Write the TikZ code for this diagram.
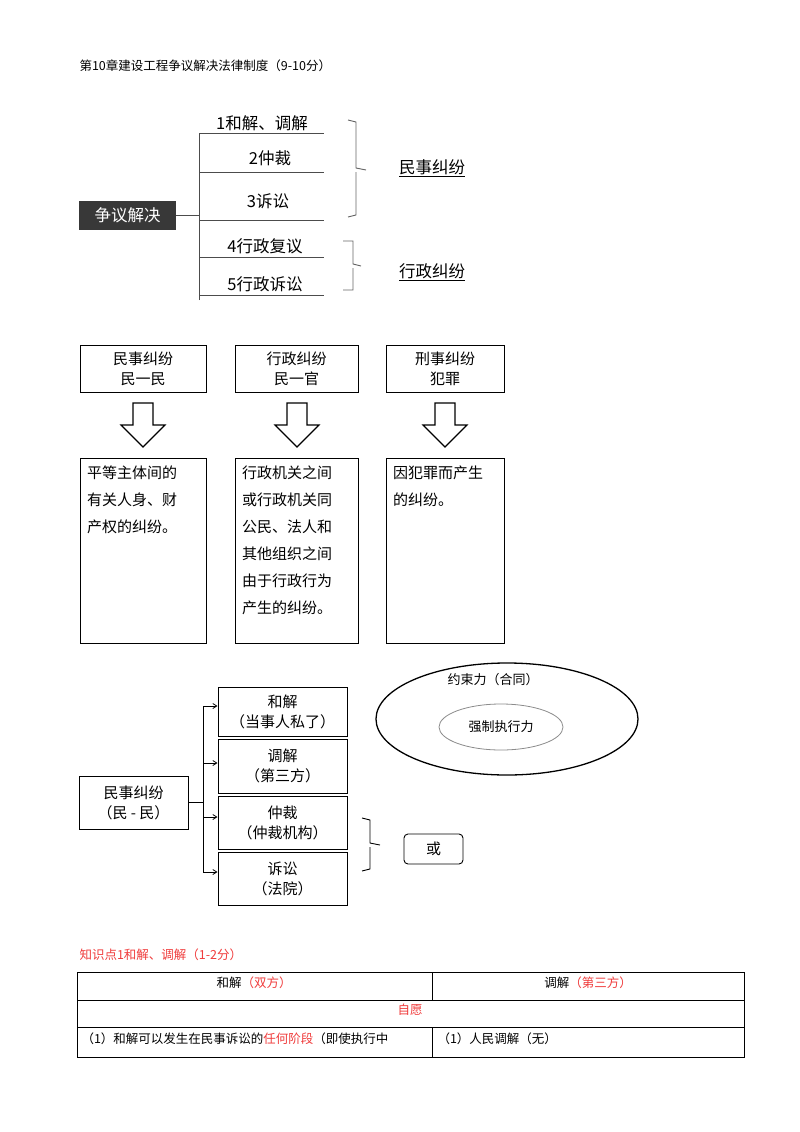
\documentclass[tikz,border=0pt]{standalone}
\usepackage{fontspec}
\setmainfont{Noto Sans CJK SC}
\usetikzlibrary{shapes.geometric,arrows.meta}
\definecolor{redt}{HTML}{F03C3C}
\begin{document}
\begin{tikzpicture}[x=1pt,y=-1pt,
  lbl/.style={font=\fontsize{16.5}{18}\selectfont},
  tbox/.style={draw,line width=1pt,align=center,font=\fontsize{15}{20}\selectfont,inner sep=0pt},
  bodybox/.style={draw,line width=1pt,anchor=north west,inner sep=0pt},
  bodytext/.style={anchor=north west,align=left,font=\fontsize{15}{27}\selectfont,inner sep=0pt},
  ln/.style={draw=black!70,line width=0.9pt},
  hollow/.style={draw,line width=1.1pt,fill=white},
  small/.style={font=\fontsize{12.5}{15}\selectfont},
  arr/.style={-{Straight Barb[length=4pt,width=5pt]},line width=0.8pt}]
\useasboundingbox (0,0) rectangle (800,1132);
\fill[white] (0,0) rectangle (800,1132);
\node[small,anchor=west] (title) at (76,66) {第10章建设工程争议解决法律制度（9-10分）};
% section 1
\node[fill=black!78,text=white,minimum width=97pt,minimum height=29pt,inner sep=0pt,font=\fontsize{16.5}{18}\selectfont] (root) at (127.5,215.5) {争议解决};
\draw[ln] (root.east) -- (199,215.5);
\draw[ln] (199,300) -- (199,133) -- (205,133);
\foreach \y in {133,172,220,257,295}{\draw[ln] (199,\y) -- (324,\y);}
\node[lbl] (n1) at (262,123) {1和解、调解};
\node[lbl] (n2) at (270,158) {2仲裁};
\node[lbl] (n3) at (268,201) {3诉讼};
\node[lbl] (n4) at (265,246) {4行政复议};
\node[lbl] (n5) at (265,284) {5行政诉讼};
\draw[ln,black!60] (348,120) -- (356,122) -- (356,168) -- (366,170) (356,172) -- (356,215) -- (348,217);
\draw[ln,black!60] (343,241) -- (353,241) -- (353,264) -- (361,266) (353,268) -- (353,290) -- (343,290);
\node[lbl] (c1) at (432,168) {\underline{民事纠纷}};
\node[lbl] (c2) at (432,272) {\underline{行政纠纷}};
% section 2
\node[tbox,minimum width=126pt,minimum height=47pt] (b1) at (143,368.5) {民事纠纷\\民一民};
\node[tbox,minimum width=123pt,minimum height=47pt] (b2) at (296.5,368.5) {行政纠纷\\民一官};
\node[tbox,minimum width=118pt,minimum height=47pt] (b3) at (445,368.5) {刑事纠纷\\犯罪};
\foreach \cx in {143,297,445}{
  \draw[hollow] (\cx-10,403) -- (\cx+10,403) -- (\cx+10,425) -- (\cx+22,425) -- (\cx,447) -- (\cx-22,425) -- (\cx-10,425) -- cycle;
}
\node[bodybox,minimum width=126pt,minimum height=185pt] (d1) at (80,458) {};
\node[bodybox,minimum width=123pt,minimum height=185pt] (d2) at (235,458) {};
\node[bodybox,minimum width=118pt,minimum height=185pt] (d3) at (386,458) {};
\node[bodytext] (t1x) at (87,466) {平等主体间的\\有关人身、财\\产权的纠纷。};
\node[bodytext] (t2x) at (242,466) {行政机关之间\\或行政机关同\\公民、法人和\\其他组织之间\\由于行政行为\\产生的纠纷。};
\node[bodytext] (t3x) at (393,466) {因犯罪而产生\\的纠纷。};
% section 3
\node[tbox,minimum width=109pt,minimum height=53pt] (m) at (133.5,802.5) {民事纠纷\\（民 - 民）};
\node[tbox,minimum width=129pt,minimum height=49pt] (r1) at (282.5,711.5) {和解\\（当事人私了）};
\node[tbox,minimum width=129pt,minimum height=54pt] (r2) at (282.5,766) {调解\\（第三方）};
\node[tbox,minimum width=129pt,minimum height=53pt] (r3) at (282.5,822.5) {仲裁\\（仲裁机构）};
\node[tbox,minimum width=129pt,minimum height=53pt] (r4) at (282.5,878.5) {诉讼\\（法院）};
\draw[line width=0.9pt] (m.east) -- (203,802.5);
\draw[line width=0.9pt] (203,706) -- (203,872);
\draw[arr] (203,706) -- (r1.west|-0,706);
\draw[arr] (203,763) -- (r2.west|-0,763);
\draw[arr] (203,817) -- (r3.west|-0,817);
\draw[arr] (203,872) -- (r4.west|-0,872);
\draw[line width=0.9pt] (362,818) -- (370,820) -- (370,843) -- (380,845) (370,847) -- (370,869) -- (362,871);
\node[draw,rounded corners=4pt,line width=0.9pt,minimum width=59pt,minimum height=30pt,inner sep=0pt,font=\fontsize{15}{18}\selectfont] (or) at (433.5,849) {或};
\node[draw,ellipse,line width=1.3pt,minimum width=262pt,minimum height=112pt] (e1) at (507,719) {};
\node[draw=black!45,ellipse,line width=0.8pt,minimum width=124pt,minimum height=46pt,inner sep=0pt,font=\fontsize{13}{15}\selectfont] (e2) at (501,727) {强制执行力};
\node[font=\fontsize{13}{15}\selectfont] (e1t) at (493,680) {约束力（合同）};
% table
\node[small,text=redt,anchor=west] (kp) at (76,955) {知识点1和解、调解（1-2分）};
\draw[line width=0.8pt] (77,972) rectangle (744,1057);
\draw[line width=0.8pt] (77,1000) -- (744,1000) (77,1027) -- (744,1027) (432,972) -- (432,1000) (432,1027) -- (432,1057);
\node[small] (h1) at (254,983) {和解\textcolor{redt}{（双方）}};
\node[small] (h2) at (588,983) {调解\textcolor{redt}{（第三方）}};
\node[small,text=redt] (zy) at (410,1010) {自愿};
\node[small,anchor=west] (r3a) at (78,1039) {（1）和解可以发生在民事诉讼的\textcolor{redt}{任何阶段}（即使执行中};
\node[small,anchor=west] (r3b) at (434,1039) {（1）人民调解（无）};
\end{tikzpicture}
\end{document}
